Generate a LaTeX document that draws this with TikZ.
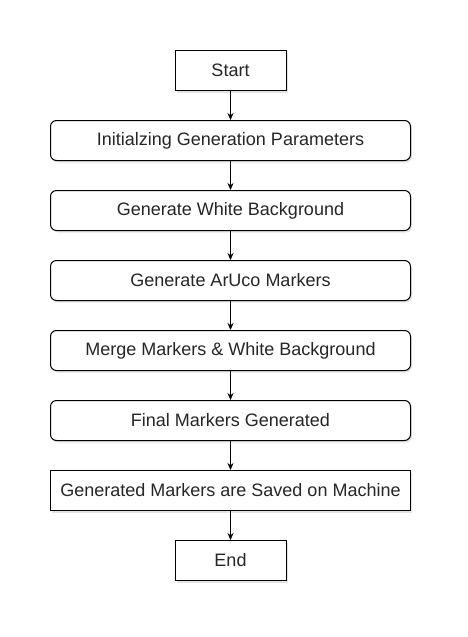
\documentclass[tikz,border=0pt]{standalone}
\usepackage{fontspec}
\setmainfont{Liberation Sans}
\usetikzlibrary{shadows,arrows.meta}
\begin{document}
\begin{tikzpicture}[x=1pt,y=-1pt,
  base/.style={draw=black, line width=1pt, fill=white, minimum height=40pt, inner sep=0pt, font=\fontsize{18}{21}\selectfont, text=black!85,
    drop shadow={opacity=0.18, shadow xshift=1.5pt, shadow yshift=-2pt, fill=black!60}},
  term/.style={base, minimum width=111pt},
  proc/.style={base, rounded corners=6pt, minimum width=360pt},
  plain/.style={base, minimum width=360pt},
  arr/.style={draw=black, line width=0.8pt, -{Stealth[length=7pt,width=6pt]}}]
\useasboundingbox (0,0) rectangle (467,637);
\node[term] (start) at (230.5,70.5) {Start};
\node[proc] (p1) at (230.5,140.5) {Initialzing Generation Parameters};
\node[proc] (p2) at (230.5,210.5) {Generate White Background};
\node[proc] (p3) at (230.5,280.5) {Generate ArUco Markers};
\node[proc] (p4) at (230.5,350.5) {Merge Markers \& White Background};
\node[proc] (p5) at (230.5,420.5) {Final Markers Generated};
\node[plain] (p6) at (230.5,490.5) {Generated Markers are Saved on Machine};
\node[term] (end) at (230.5,560.5) {End};
\draw[arr] (start) -- (p1);
\draw[arr] (p1) -- (p2);
\draw[arr] (p2) -- (p3);
\draw[arr] (p3) -- (p4);
\draw[arr] (p4) -- (p5);
\draw[arr] (p5) -- (p6);
\draw[arr] (p6) -- (end);
\end{tikzpicture}
\end{document}
